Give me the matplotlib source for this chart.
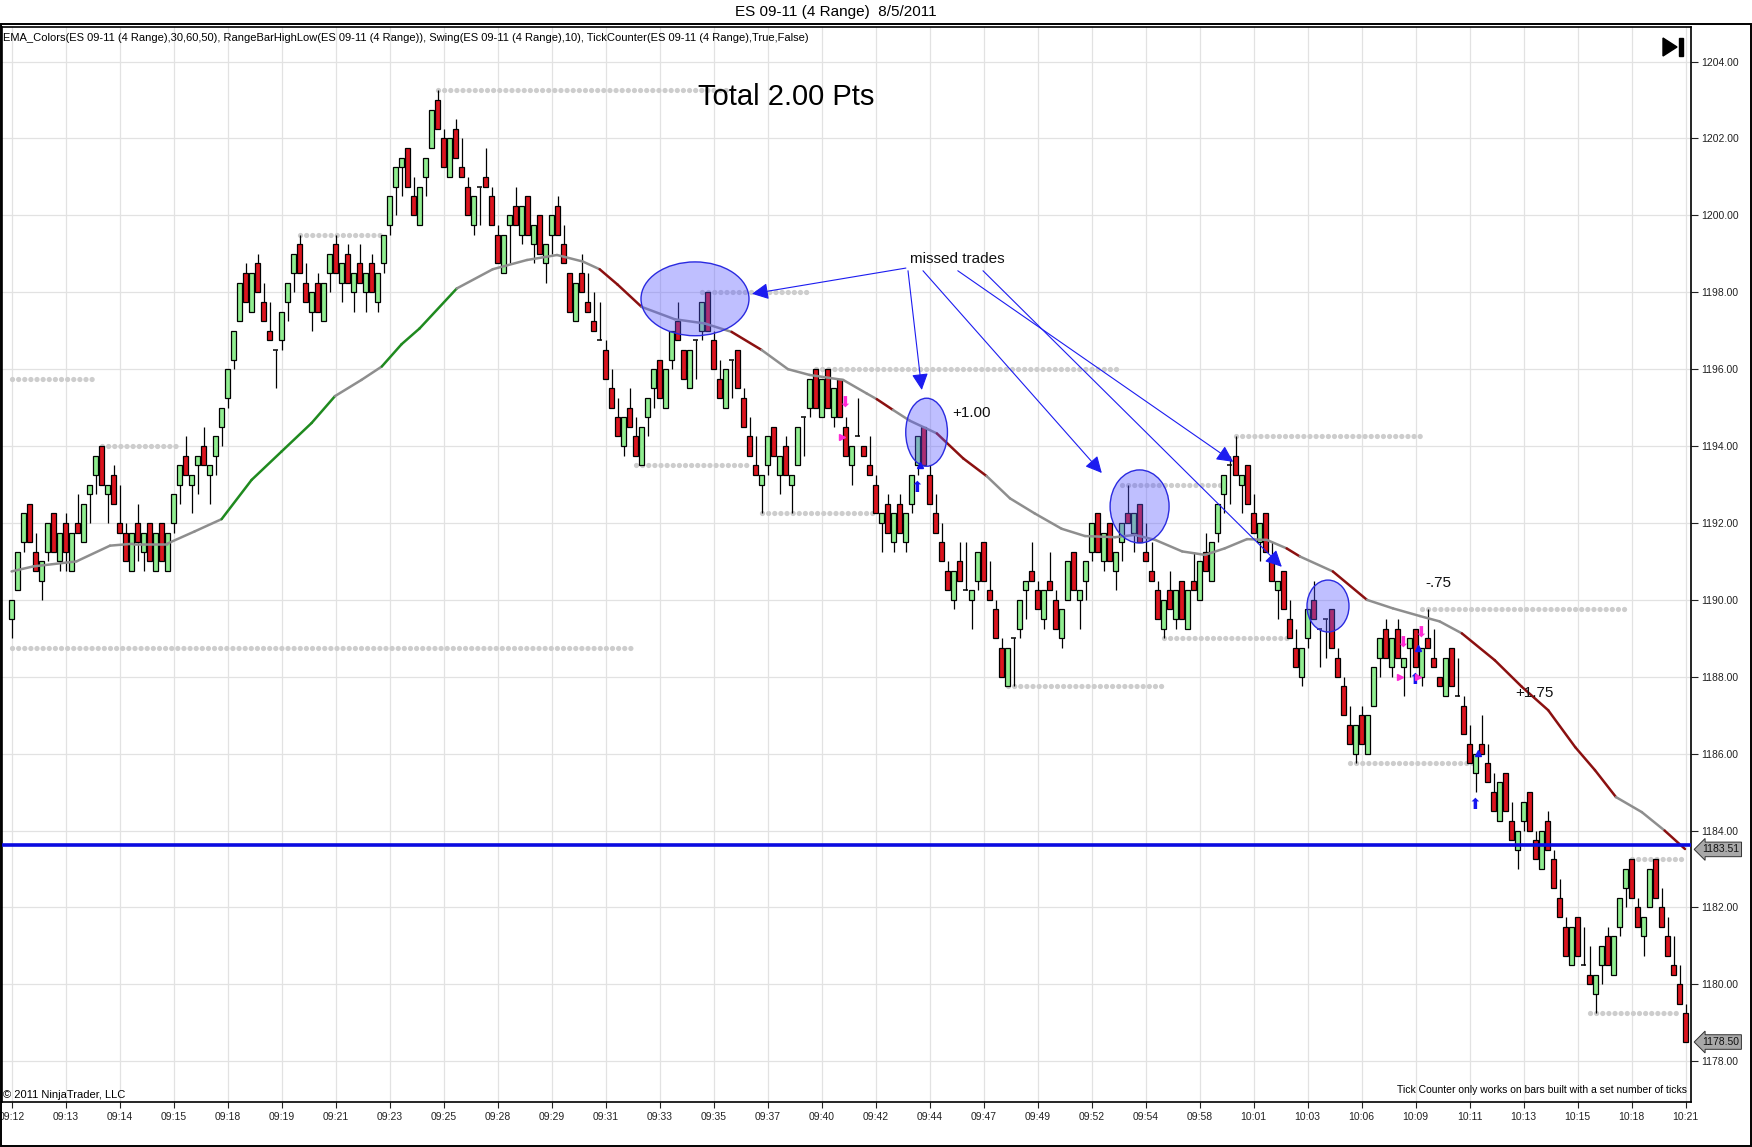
import numpy as np
import matplotlib
matplotlib.use('Agg')
import matplotlib.pyplot as plt
from matplotlib.patches import Ellipse, Rectangle, Polygon
from matplotlib.collections import LineCollection
from matplotlib.ticker import FormatStrFormatter

plt.rcParams['font.family'] = ['Liberation Sans', 'DejaVu Sans']

# range bars, one entry per bar (ES 09-11, 4 range)
opens = [
    1189.5, 1190.25, 1191.5, 1192.5, 1191.25, 1190.5, 1191.25, 1192.25, 1191.0, 1192.0,
    1190.75, 1192.0, 1191.5, 1192.75, 1193.25, 1194.0, 1192.75, 1193.25, 1192.0, 1191.75,
    1190.75, 1192.0, 1191.25, 1192.0, 1190.75, 1192.0, 1190.75, 1192.0, 1193.0, 1193.75,
    1193.0, 1193.5, 1194.0, 1193.25, 1193.75, 1194.5, 1195.25, 1196.25, 1197.25, 1198.5,
    1197.5, 1198.75, 1197.75, 1197.0, 1196.5, 1196.75, 1197.75, 1198.5, 1199.25, 1198.25,
    1197.5, 1198.25, 1197.25, 1198.5, 1199.25, 1198.25, 1199.0, 1198.0, 1198.75, 1198.0,
    1198.75, 1197.75, 1198.75, 1199.75, 1200.75, 1201.25, 1201.75, 1200.5, 1199.75, 1201.0,
    1201.75, 1203.0, 1202.0, 1201.0, 1202.25, 1201.25, 1200.75, 1199.75, 1200.75, 1201.0,
    1200.5, 1199.5, 1198.5, 1199.75, 1200.25, 1199.5, 1200.5, 1199.25, 1200.0, 1198.75,
    1199.5, 1200.25, 1199.25, 1198.5, 1197.25, 1198.5, 1197.75, 1197.25, 1196.75, 1196.5,
    1195.5, 1194.75, 1194.0, 1195.0, 1194.25, 1193.5, 1194.75, 1195.5, 1196.25, 1195.0,
    1196.25, 1197.25, 1196.5, 1195.5, 1196.75, 1197.0, 1198.0, 1196.75, 1195.75, 1195.0,
    1196.25, 1196.5, 1195.25, 1194.25, 1193.5, 1193.0, 1193.5, 1194.5, 1193.25, 1194.0,
    1193.0, 1193.5, 1194.75, 1195.0, 1196.0, 1194.75, 1196.0, 1194.75, 1195.75, 1194.5,
    1193.5, 1194.25, 1194.0, 1193.5, 1193.0, 1192.0, 1192.5, 1191.5, 1192.5, 1191.5,
    1192.5, 1193.5, 1194.5, 1193.25, 1192.25, 1191.5, 1190.75, 1190.0, 1191.0, 1190.25,
    1190.0, 1190.5, 1191.5, 1190.25, 1189.75, 1188.75, 1187.75, 1189.0, 1189.25, 1190.25,
    1190.75, 1190.25, 1189.5, 1190.5, 1190.0, 1189.0, 1190.0, 1191.25, 1190.0, 1190.5,
    1191.25, 1192.25, 1191.0, 1192.0, 1190.75, 1191.5, 1192.25, 1191.75, 1192.5, 1191.25,
    1190.75, 1190.25, 1189.25, 1190.25, 1189.5, 1190.5, 1189.25, 1190.5, 1190.0, 1191.25,
    1190.5, 1191.75, 1192.75, 1193.5, 1193.75, 1193.0, 1193.5, 1192.25, 1191.5, 1192.25,
    1191.0, 1190.25, 1190.75, 1189.5, 1188.75, 1188.0, 1189.0, 1190.0, 1189.25, 1189.5,
    1189.75, 1188.5, 1187.75, 1186.75, 1186.0, 1187.0, 1186.0, 1187.25, 1188.5, 1189.25,
    1188.25, 1189.25, 1188.25, 1188.75, 1189.25, 1188.0, 1189.0, 1188.5, 1188.0, 1187.5,
    1188.75, 1187.5, 1187.25, 1186.25, 1185.5, 1186.25, 1185.75, 1185.0, 1184.25, 1185.5,
    1184.25, 1183.5, 1184.25, 1185.0, 1183.75, 1183.0, 1184.25, 1183.25, 1182.25, 1181.5,
    1180.5, 1181.75, 1180.5, 1180.25, 1179.75, 1180.5, 1181.25, 1180.25, 1181.5, 1182.5,
    1183.25, 1182.0, 1181.25, 1182.0, 1183.25, 1182.0, 1181.25, 1180.5, 1180.0, 1179.25,
]
highs = [
    1190.0, 1191.25, 1192.25, 1192.5, 1191.75, 1191.0, 1192.0, 1192.25, 1191.75, 1192.25,
    1191.75, 1192.75, 1192.5, 1193.0, 1193.75, 1194.0, 1193.0, 1193.5, 1193.0, 1192.0,
    1191.75, 1192.5, 1191.75, 1192.0, 1191.75, 1192.0, 1191.75, 1192.75, 1193.5, 1194.25,
    1193.25, 1193.75, 1194.5, 1193.5, 1194.25, 1195.0, 1196.0, 1197.0, 1198.25, 1198.75,
    1198.5, 1199.0, 1198.25, 1197.75, 1196.5, 1197.5, 1198.25, 1199.0, 1199.5, 1198.75,
    1198.0, 1198.5, 1198.25, 1199.0, 1199.5, 1198.75, 1199.25, 1198.5, 1199.25, 1198.5,
    1199.0, 1198.5, 1199.5, 1200.5, 1201.25, 1201.5, 1201.75, 1201.0, 1200.75, 1201.5,
    1202.75, 1203.25, 1202.25, 1202.0, 1202.5, 1202.0, 1201.0, 1200.5, 1200.75, 1201.75,
    1200.75, 1199.75, 1199.5, 1200.0, 1200.75, 1200.25, 1200.5, 1199.75, 1200.0, 1199.25,
    1200.0, 1200.5, 1199.75, 1198.5, 1198.25, 1199.0, 1198.5, 1198.0, 1197.75, 1196.75,
    1196.0, 1195.25, 1194.75, 1195.5, 1194.75, 1194.5, 1195.25, 1196.0, 1196.25, 1196.0,
    1197.0, 1197.75, 1196.5, 1196.5, 1196.75, 1197.75, 1198.0, 1197.0, 1196.25, 1196.0,
    1196.25, 1196.5, 1195.5, 1194.75, 1194.25, 1193.25, 1194.25, 1194.5, 1193.75, 1194.25,
    1193.25, 1194.5, 1194.75, 1195.75, 1196.0, 1195.75, 1196.0, 1195.5, 1195.75, 1194.75,
    1194.0, 1195.25, 1194.0, 1194.25, 1193.25, 1192.25, 1192.75, 1192.25, 1192.75, 1192.25,
    1193.25, 1194.25, 1194.5, 1193.5, 1192.75, 1192.0, 1191.0, 1190.75, 1191.5, 1191.5,
    1190.25, 1191.25, 1191.5, 1191.0, 1190.0, 1189.0, 1188.75, 1189.0, 1190.0, 1190.5,
    1191.5, 1190.5, 1190.25, 1191.25, 1190.25, 1189.75, 1191.0, 1191.25, 1190.25, 1191.0,
    1192.0, 1192.25, 1191.75, 1192.0, 1191.25, 1192.0, 1193.0, 1192.25, 1192.5, 1192.0,
    1191.5, 1190.5, 1190.0, 1190.75, 1190.25, 1190.5, 1190.25, 1191.25, 1191.0, 1191.75,
    1191.5, 1192.5, 1193.25, 1193.75, 1194.25, 1193.25, 1193.5, 1192.75, 1192.0, 1192.25,
    1191.5, 1190.5, 1190.75, 1190.0, 1189.25, 1188.75, 1189.75, 1190.5, 1189.25, 1189.5,
    1189.75, 1188.75, 1188.0, 1187.25, 1186.75, 1187.25, 1187.0, 1188.25, 1189.0, 1189.5,
    1189.0, 1189.5, 1188.5, 1189.0, 1189.25, 1188.75, 1189.75, 1189.25, 1188.0, 1188.5,
    1188.75, 1188.5, 1187.5, 1186.75, 1186.0, 1187.0, 1186.25, 1185.5, 1185.25, 1185.5,
    1184.75, 1184.0, 1184.75, 1185.0, 1184.0, 1184.0, 1184.5, 1183.5, 1182.75, 1181.75,
    1181.5, 1181.75, 1181.5, 1181.0, 1180.25, 1181.0, 1181.5, 1181.25, 1182.25, 1183.0,
    1183.25, 1182.25, 1181.75, 1183.0, 1183.25, 1182.5, 1181.75, 1181.25, 1180.5, 1179.5,
]
lows = [
    1189.0, 1190.25, 1191.25, 1191.5, 1190.75, 1190.0, 1191.0, 1191.25, 1190.75, 1190.75,
    1190.75, 1191.75, 1191.5, 1192.0, 1192.75, 1193.0, 1192.0, 1192.5, 1191.75, 1191.0,
    1190.75, 1191.0, 1190.75, 1191.0, 1190.75, 1191.0, 1190.75, 1191.75, 1192.5, 1193.25,
    1192.25, 1192.75, 1193.5, 1192.5, 1193.25, 1194.0, 1195.0, 1196.0, 1197.25, 1197.75,
    1197.5, 1198.0, 1197.25, 1196.75, 1195.5, 1196.5, 1197.25, 1198.0, 1198.5, 1197.75,
    1197.0, 1197.5, 1197.25, 1198.0, 1198.5, 1197.75, 1198.25, 1197.5, 1198.25, 1197.5,
    1198.0, 1197.5, 1198.5, 1199.5, 1200.0, 1200.5, 1200.75, 1200.0, 1199.75, 1200.5,
    1201.75, 1202.25, 1201.25, 1201.0, 1201.5, 1201.0, 1200.0, 1199.5, 1199.75, 1200.75,
    1199.75, 1198.75, 1198.5, 1198.75, 1199.75, 1199.25, 1199.5, 1198.75, 1199.0, 1198.25,
    1199.0, 1199.5, 1198.75, 1197.5, 1197.25, 1198.0, 1197.5, 1197.0, 1196.75, 1195.75,
    1195.0, 1194.25, 1193.75, 1194.5, 1193.75, 1193.5, 1194.25, 1195.0, 1195.25, 1195.0,
    1196.0, 1196.75, 1195.75, 1195.5, 1195.75, 1196.75, 1197.0, 1196.0, 1195.25, 1195.0,
    1195.25, 1195.5, 1194.5, 1193.75, 1193.25, 1192.25, 1193.25, 1193.75, 1192.75, 1193.25,
    1192.25, 1193.5, 1193.75, 1194.75, 1195.0, 1194.75, 1195.0, 1194.5, 1194.75, 1193.75,
    1193.0, 1194.25, 1193.75, 1193.25, 1192.25, 1191.25, 1191.75, 1191.25, 1191.75, 1191.25,
    1192.25, 1193.25, 1193.5, 1192.5, 1191.75, 1191.0, 1190.25, 1189.75, 1190.5, 1190.25,
    1189.25, 1190.25, 1190.5, 1190.0, 1189.0, 1188.0, 1187.75, 1187.75, 1189.0, 1189.5,
    1190.5, 1189.75, 1189.25, 1190.25, 1189.25, 1188.75, 1190.0, 1190.25, 1189.25, 1190.0,
    1191.0, 1191.25, 1190.75, 1191.0, 1190.25, 1191.0, 1192.0, 1191.25, 1191.5, 1191.0,
    1190.5, 1189.5, 1189.0, 1189.75, 1189.25, 1189.5, 1189.25, 1190.25, 1190.0, 1190.75,
    1190.5, 1191.5, 1192.25, 1192.5, 1193.25, 1192.25, 1192.5, 1191.75, 1191.0, 1191.25,
    1190.5, 1189.5, 1189.75, 1189.0, 1188.25, 1187.75, 1188.75, 1189.5, 1188.25, 1188.5,
    1188.75, 1188.0, 1187.0, 1186.25, 1185.75, 1186.25, 1186.0, 1187.25, 1188.0, 1188.5,
    1188.0, 1188.5, 1187.5, 1188.0, 1188.25, 1187.75, 1188.75, 1188.25, 1187.75, 1187.5,
    1187.75, 1187.5, 1186.5, 1185.75, 1185.0, 1186.0, 1185.25, 1184.5, 1184.25, 1184.5,
    1183.75, 1183.0, 1184.0, 1184.0, 1183.25, 1183.0, 1183.5, 1182.5, 1181.75, 1180.75,
    1180.5, 1180.75, 1180.5, 1180.0, 1179.25, 1180.0, 1180.5, 1180.25, 1181.25, 1182.0,
    1182.25, 1181.5, 1180.75, 1182.0, 1182.25, 1181.5, 1180.75, 1180.25, 1179.5, 1178.5,
]
closes = [
    1190.0, 1191.25, 1192.25, 1191.5, 1190.75, 1191.0, 1192.0, 1191.25, 1191.75, 1191.25,
    1191.75, 1191.75, 1192.5, 1193.0, 1193.75, 1193.0, 1193.0, 1192.5, 1191.75, 1191.0,
    1191.75, 1191.5, 1191.75, 1191.0, 1191.75, 1191.0, 1191.75, 1192.75, 1193.5, 1193.25,
    1193.25, 1193.75, 1193.5, 1193.5, 1194.25, 1195.0, 1196.0, 1197.0, 1198.25, 1197.75,
    1198.5, 1198.0, 1197.25, 1196.75, 1196.5, 1197.5, 1198.25, 1199.0, 1198.5, 1197.75,
    1198.0, 1197.5, 1198.25, 1199.0, 1198.5, 1198.75, 1198.25, 1198.5, 1198.25, 1198.5,
    1198.0, 1198.5, 1199.5, 1200.5, 1201.25, 1201.5, 1200.75, 1200.0, 1200.75, 1201.5,
    1202.75, 1202.25, 1201.25, 1202.0, 1201.5, 1201.0, 1200.0, 1200.5, 1200.75, 1200.75,
    1199.75, 1198.75, 1199.5, 1200.0, 1199.75, 1200.25, 1199.5, 1199.75, 1199.0, 1199.25,
    1200.0, 1199.5, 1198.75, 1197.5, 1198.25, 1198.0, 1197.5, 1197.0, 1196.75, 1195.75,
    1195.0, 1194.25, 1194.75, 1194.5, 1193.75, 1194.5, 1195.25, 1196.0, 1195.25, 1196.0,
    1197.0, 1196.75, 1195.75, 1196.5, 1196.75, 1197.75, 1197.0, 1196.0, 1195.25, 1196.0,
    1196.25, 1195.5, 1194.5, 1193.75, 1193.25, 1193.25, 1194.25, 1193.75, 1193.75, 1193.25,
    1193.25, 1194.5, 1194.75, 1195.75, 1195.0, 1195.75, 1195.0, 1195.5, 1194.75, 1193.75,
    1194.0, 1194.25, 1193.75, 1193.25, 1192.25, 1192.25, 1191.75, 1192.25, 1191.75, 1192.25,
    1193.25, 1194.25, 1193.5, 1192.5, 1191.75, 1191.0, 1190.25, 1190.75, 1190.5, 1190.25,
    1190.25, 1191.25, 1190.5, 1190.0, 1189.0, 1188.0, 1188.75, 1189.0, 1190.0, 1190.5,
    1190.5, 1189.75, 1190.25, 1190.25, 1189.25, 1189.75, 1191.0, 1190.25, 1190.25, 1191.0,
    1192.0, 1191.25, 1191.75, 1191.0, 1191.25, 1192.0, 1192.0, 1192.25, 1191.5, 1191.0,
    1190.5, 1189.5, 1190.0, 1189.75, 1190.25, 1189.5, 1190.25, 1190.25, 1191.0, 1190.75,
    1191.5, 1192.5, 1193.25, 1193.5, 1193.25, 1193.25, 1192.5, 1191.75, 1192.0, 1191.25,
    1190.5, 1190.5, 1189.75, 1189.0, 1188.25, 1188.75, 1189.75, 1189.5, 1189.25, 1189.5,
    1188.75, 1188.0, 1187.0, 1186.25, 1186.75, 1186.25, 1187.0, 1188.25, 1189.0, 1188.5,
    1189.0, 1188.5, 1188.5, 1189.0, 1188.25, 1188.75, 1188.75, 1188.25, 1187.75, 1188.5,
    1187.75, 1187.5, 1186.5, 1185.75, 1186.0, 1186.0, 1185.25, 1184.5, 1185.25, 1184.5,
    1183.75, 1184.0, 1184.75, 1184.0, 1183.25, 1184.0, 1183.5, 1182.5, 1181.75, 1180.75,
    1181.5, 1180.75, 1180.5, 1180.0, 1180.25, 1181.0, 1180.5, 1181.25, 1182.25, 1183.0,
    1182.25, 1181.5, 1181.75, 1183.0, 1182.25, 1181.5, 1180.75, 1180.25, 1179.5, 1178.5,
]

time_labels = ['09:12', '09:13', '09:14', '09:15', '09:18', '09:19', '09:21', '09:23',
               '09:25', '09:28', '09:29', '09:31', '09:33', '09:35', '09:37', '09:40',
               '09:42', '09:44', '09:47', '09:49', '09:52', '09:54', '09:58', '10:01',
               '10:03', '10:06', '10:09', '10:11', '10:13', '10:15', '10:18', '10:21']
tick_every = 9

# EMA(30), x in bar units; colour per segment (n=flat, g=up, r=down)
ema_x = [0, 3.6, 10.8, 16.4, 20.2, 25.9, 30.5, 35, 40, 45, 50, 53.9, 58.3, 61.7, 65, 68,
         74.2, 80.2, 85.9, 90.9, 95.2, 98, 101, 105, 110.5, 115.5, 120, 125, 129.4, 133,
         138.6, 142.5, 144.2, 146.9, 149.7, 154.2, 158.6, 162.5, 166.4, 170.5, 175, 178.9,
         183.9, 187.2, 190.6, 195.1, 198.9, 202.2, 205.9, 209.2, 212.5, 214.7, 220.2,
         225.9, 230.2, 234.7, 238, 241.7, 247.2, 251.7, 256.1, 260.6, 263.9, 267.4, 271.7,
         275.5, 278.9]
ema_y = [1190.74, 1190.87, 1191.0, 1191.41, 1191.46, 1191.46, 1191.78, 1192.1, 1193.12,
         1193.86, 1194.6, 1195.3, 1195.72, 1196.07, 1196.65, 1197.06, 1198.1, 1198.6,
         1198.84, 1198.97, 1198.8, 1198.6, 1198.2, 1197.62, 1197.3, 1197.19, 1196.97,
         1196.5, 1196.0, 1195.85, 1195.72, 1195.37, 1195.22, 1194.94, 1194.66, 1194.33,
         1193.68, 1193.22, 1192.64, 1192.25, 1191.85, 1191.66, 1191.63, 1191.69, 1191.56,
         1191.26, 1191.17, 1191.34, 1191.58, 1191.56, 1191.34, 1191.13, 1190.74, 1190.0,
         1189.78, 1189.58, 1189.44, 1189.13, 1188.43, 1187.74, 1187.13, 1186.17, 1185.57,
         1184.87, 1184.48, 1184.0, 1183.52]
ema_col = 'nnnnnnnggggnngggnnnnnrrnnnrnnnnnrnnrrnnnnnnnnnnnnnrnrnnnnrrrrrrnnr'

# RangeBarHighLow / swing levels: first bar, last bar, price
swing_start = [0, 0, 15, 48, 71, 104, 115, 125, 134, 166, 185, 192, 204, 223, 235, 263, 270]
swing_end = [14, 104, 28, 62, 119, 123, 133, 144, 185, 192, 202, 213, 235, 244, 269, 278, 279]
swing_price = [1195.75, 1188.75, 1194.0, 1199.5, 1203.25, 1193.5, 1198.0, 1192.25, 1196.0,
               1187.75, 1193.0, 1189.0, 1194.25, 1185.75, 1189.75, 1179.25, 1183.25]

# hand-drawn marks
circle_x = [113.9, 152.5, 188.0, 219.4]
circle_y = [1197.83, 1194.36, 1192.43, 1189.84]
circle_w = [18.0, 6.95, 9.83, 7.0]
circle_h = [1.92, 1.77, 1.90, 1.35]

arrow_from_x = [149.05, 149.4, 151.9, 161.9, 157.7]
arrow_from_y = [1198.63, 1198.56, 1198.56, 1198.56, 1198.56]
arrow_to_x = [123.4, 151.7, 181.7, 211.7, 203.6]
arrow_to_y = [1197.96, 1195.46, 1193.30, 1190.86, 1193.59]

notes = ['missed trades', '+1.00', '-.75', '+1.75']
note_x = [149.7, 156.7, 235.7, 250.6]
note_y = [1198.87, 1194.86, 1190.44, 1187.58]

# TickCounter / strategy signals
sell_x = [138.9, 231.9, 234.9]
sell_y = [1195.12, 1188.88, 1189.14]
exit_x = [138.4, 231.4, 234.4]
exit_y = [1194.24, 1188.0, 1188.0]
buy_x = [150.9, 233.9, 243.9]
buy_y = [1192.91, 1187.92, 1184.67]
fill_x = [151.4, 234.4, 244.4]
fill_y = [1193.51, 1188.75, 1186.02]

line_price = 1183.62
last_price = 1183.51
last_close = 1178.50

W, H = 1752, 1147
fig = plt.figure(figsize=(W / 100, H / 100), dpi=100)
ax = fig.add_axes([2 / W, 1 - 1102 / H, 1689 / W, 1075 / H])

o = np.array(opens)
c = np.array(closes)
hi = np.array(highs)
lo = np.array(lows)
idx = np.arange(len(c))
up = c > o
dn = c < o
flat = c == o
bw = 0.72

ax.vlines(idx, lo, hi, color='black', lw=0.9, zorder=4)
ax.bar(idx[up], (c - o)[up], bottom=o[up], width=bw, color='#90ee90',
       edgecolor='black', linewidth=0.9, zorder=5)
ax.bar(idx[dn], (o - c)[dn], bottom=c[dn], width=bw, color='#dc141e',
       edgecolor='black', linewidth=0.9, zorder=5)
ax.hlines(c[flat], idx[flat] - bw / 2, idx[flat] + bw / 2, color='black', lw=1.1, zorder=5)

# swing levels as fat dotted lines
for s, e, p in zip(swing_start, swing_end, swing_price):
    ax.plot([s, e], [p, p], color='#cdcdcd', lw=3.8, linestyle=(0, (0.01, 1.15)),
            dash_capstyle='round', zorder=2)

# EMA coloured by slope
colmap = {'n': '#8e8e8e', 'g': '#1f8a1f', 'r': '#8b1010'}
pts = list(zip(ema_x, ema_y))
segs = [[pts[k], pts[k + 1]] for k in range(len(pts) - 1)]
lc = LineCollection(segs, colors=[colmap[ch] for ch in ema_col], linewidths=1.8,
                    capstyle='round', zorder=6)
ax.add_collection(lc)

ax.axhline(line_price, color='#0a0ae0', lw=2.6, zorder=6)

for x, y, w, h in zip(circle_x, circle_y, circle_w, circle_h):
    ax.add_patch(Ellipse((x, y), w, h, facecolor=(0.35, 0.35, 1.0, 0.38),
                         edgecolor='#2a2ae0', lw=1.0, zorder=7))

for fx_, fy_, tx, ty in zip(arrow_from_x, arrow_from_y, arrow_to_x, arrow_to_y):
    ax.annotate('', xy=(tx, ty), xytext=(fx_, fy_),
                arrowprops=dict(arrowstyle='-|>', mutation_scale=25, color='#1c1cf0',
                                lw=0.8, shrinkA=0, shrinkB=0), zorder=8)

for t, x, y in zip(notes, note_x, note_y):
    ax.text(x, y, t, fontsize=11, ha='left', va='center', color='#111111', zorder=9)
ax.text(114.4, 1203.08, 'Total 2.00 Pts', fontsize=21, ha='left', va='center', zorder=9)

for x, y in zip(sell_x, sell_y):
    ax.text(x, y, '\u2b07', fontsize=11, color='#ff2ad4', ha='center', va='center',
            family='DejaVu Sans', zorder=9)
for x, y in zip(buy_x, buy_y):
    ax.text(x, y, '\u2b06', fontsize=11, color='#1414f0', ha='center', va='center',
            family='DejaVu Sans', zorder=9)
ax.plot(exit_x, exit_y, linestyle='none', marker='>', ms=5, color='#ff2ad4', zorder=9)
ax.plot(fill_x, fill_y, linestyle='none', marker='^', ms=4, color='#1414f0', zorder=9)

# axes, grid, ticks
ax.set_xlim(-1.6, 279.9)
ax.set_ylim(1176.94, 1204.9)
ax.set_xticks(np.arange(0, len(time_labels) * tick_every, tick_every))
ax.set_xticklabels(time_labels)
ax.set_yticks(np.arange(1178, 1205, 2))
ax.yaxis.set_major_formatter(FormatStrFormatter('%.2f'))
ax.yaxis.tick_right()
ax.tick_params(axis='y', direction='out', length=5, width=0.8, labelsize=7.5,
               pad=2, colors='#222222')
ax.tick_params(axis='x', direction='out', length=4, width=0.8, labelsize=7.5,
               pad=3, colors='#222222')
ax.grid(True, color='#e2e2e2', lw=0.9)
ax.set_axisbelow(True)
for sp in ax.spines.values():
    sp.set_color('black')
    sp.set_linewidth(1.2)

for p in (last_price, last_close):
    ax.annotate(f'{p:.2f}', xy=(1, p), xycoords=('axes fraction', 'data'),
                xytext=(8, 0), textcoords='offset points', ha='left', va='center',
                fontsize=7.5, color='#111111', annotation_clip=False,
                bbox=dict(boxstyle='larrow,pad=0.22', fc='#a8a8a8', ec='#333333', lw=0.7))

# chart frame and header texts
fig.patches.append(Rectangle((0.0006, 0.0009), 0.9988, 1 - 24 / H - 0.0009,
                             transform=fig.transFigure, fill=False, ec='black', lw=1.4))
fig.text(836 / W, 1 - 12 / H, 'ES 09-11 (4 Range)  8/5/2011', ha='center', va='center',
         fontsize=11)
fig.text(3 / W, 1 - 38 / H,
         'EMA_Colors(ES 09-11 (4 Range),30,60,50), RangeBarHighLow(ES 09-11 (4 Range)), '
         'Swing(ES 09-11 (4 Range),10), TickCounter(ES 09-11 (4 Range),True,False)',
         ha='left', va='center', fontsize=8)
fig.text(3 / W, 1 - 1095 / H, '\u00a9 2011 NinjaTrader, LLC', ha='left', va='center',
         fontsize=8)
fig.text(1687 / W, 1 - 1090 / H,
         'Tick Counter only works on bars built with a set number of ticks',
         ha='right', va='center', fontsize=7.5)

# "go to last bar" icon
fig.patches.append(Polygon([(1663 / W, 1 - 38 / H), (1663 / W, 1 - 56 / H),
                            (1677 / W, 1 - 47 / H)], closed=True,
                           transform=fig.transFigure, color='black'))
fig.patches.append(Rectangle((1679 / W, 1 - 56 / H), 4 / W, 18 / H,
                             transform=fig.transFigure, color='black'))

fig.savefig('out.png', dpi=100)
